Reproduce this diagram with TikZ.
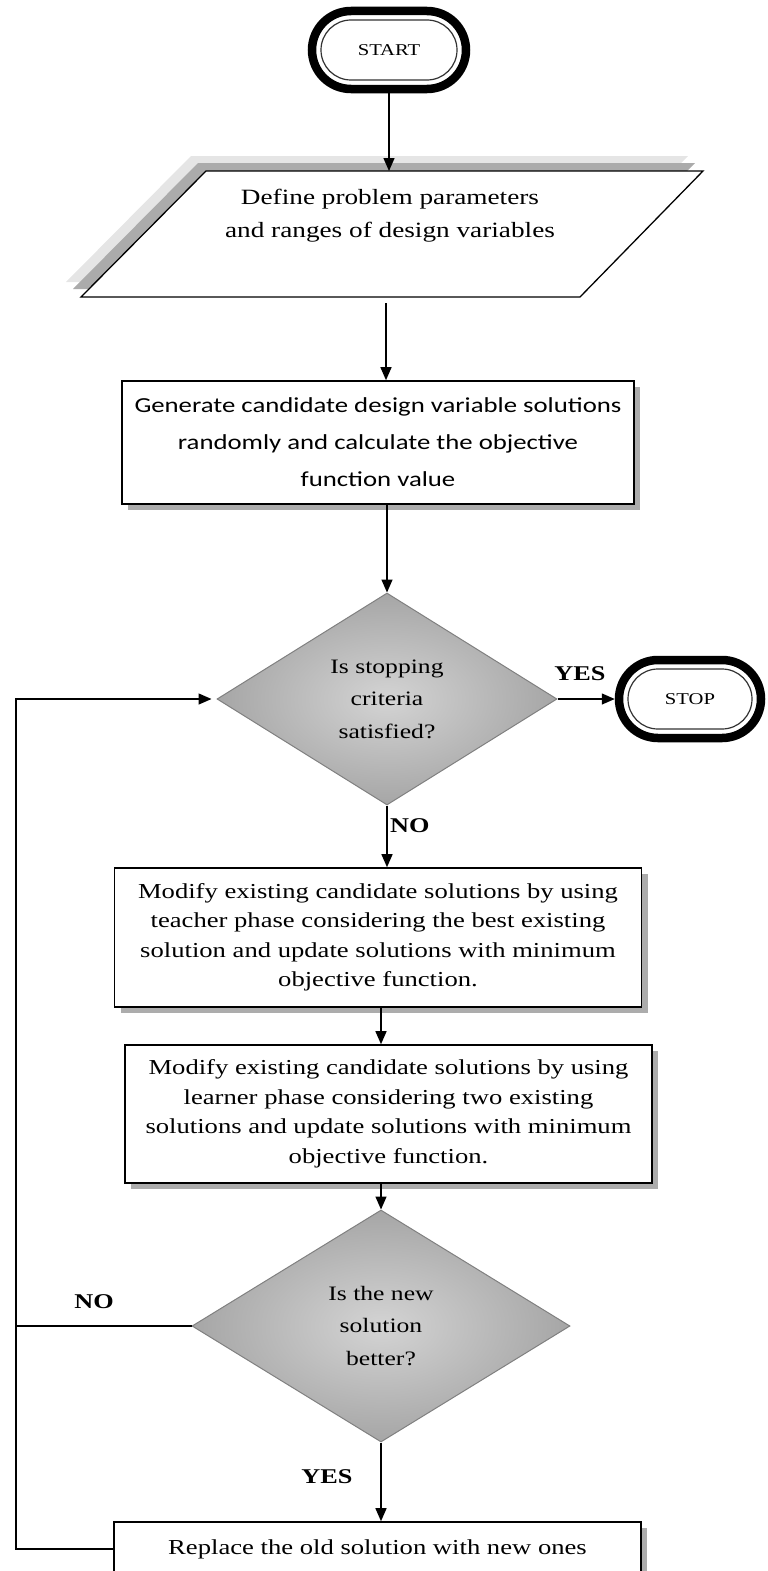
\documentclass[tikz,border=0pt]{standalone}
\usepackage{fontspec}
\setmainfont{Liberation Serif}
\newfontfamily\timesfont[FakeStretch=1.25]{Liberation Serif}
\newfontfamily\carlitofont[FakeStretch=1.25]{Carlito}
\usetikzlibrary{shapes.geometric,shapes.misc,arrows.meta,calc,shadows}
\begin{document}
\begin{tikzpicture}[x=1pt,y=-1pt,
  line/.style={line width=1.4pt, draw=black},
  arr/.style={line, -{Triangle[length=13pt,width=11pt]}},
  box/.style={rectangle, draw=black, line width=1.6pt, fill=white, inner sep=0pt, align=center,
    drop shadow={shadow xshift=6pt, shadow yshift=-6pt, opacity=0.65}},
  termout/.style={rounded rectangle, draw=black, line width=8.5pt, fill=white, inner sep=0pt},
  termin/.style={rounded rectangle, draw=black!80, line width=1.2pt, inner sep=0pt,
    font=\timesfont\fontsize{16.5}{18}\selectfont},
  dec/.style={diamond, draw=black!50, line width=1pt, inner color=black!17, outer color=black!35,
    inner sep=0pt, align=center, font=\timesfont\fontsize{20.5}{32.5}\selectfont},
  lab/.style={font=\timesfont\bfseries\fontsize{21}{24}\selectfont, inner sep=0pt},
  btext/.style={font=\timesfont\fontsize{21.3}{29.5}\selectfont},
]
\useasboundingbox (0,0) rectangle (768,1571);
\clip (0,0) rectangle (768,1571);
\coordinate (loopx) at (16,0);

% START
\node[termout, minimum width=154pt, minimum height=78pt] (start) at (389,50) {};
\node[termin, minimum width=136pt, minimum height=60pt] (startin) at (start.center) {START};

% parallelogram
\coordinate (pa) at (206,171); \coordinate (pb) at (703,171);
\coordinate (pc) at (580,297); \coordinate (pd) at (81,297);
\begin{scope}[shift={(-15,-15)}]
\fill[black!10] (206,171) -- (703,171) -- (580,297) -- (81,297) -- cycle;
\end{scope}
\begin{scope}[shift={(-8,-8)}]
\fill[black!33] (206,171) -- (703,171) -- (580,297) -- (81,297) -- cycle;
\end{scope}
\filldraw[fill=white, line width=1.3pt] (pa) -- (pb) -- (pc) -- (pd) -- cycle;
\node[align=center, font=\timesfont\fontsize{21.8}{33}\selectfont] (ptext) at (390,216)
  {Define problem parameters\\and ranges of design variables};
\coordinate (ptop) at (387,171);
\coordinate (pbot) at (386,303);

% generate
\node[box, font=\carlitofont\fontsize{21.4}{37}\selectfont, minimum width=512pt, minimum height=123pt] (gen) at (378,442.5)
  {Generate candidate design variable solutions\\randomly and calculate the objective\\function value};

% decision 1
\node[dec, minimum width=340pt, minimum height=212pt] (d1) at (387,699) {Is stopping\\criteria\\satisfied?};

% STOP
\node[termout, minimum width=142pt, minimum height=78pt] (stop) at (690,699) {};
\node[termin, minimum width=124pt, minimum height=60pt] (stopin) at (stop.center) {STOP};

% modify boxes
\node[box, btext, minimum width=527pt, minimum height=139pt] (mod1) at (378,937.5)
  {Modify existing candidate solutions by using\\teacher phase considering the best existing\\solution and update solutions with minimum\\objective function.};
\node[box, btext, minimum width=527pt, minimum height=138pt] (mod2) at (388.5,1114)
  {Modify existing candidate solutions by using\\learner phase considering two existing\\solutions and update solutions with minimum\\objective function.};

% decision 2
\node[dec, minimum width=378pt, minimum height=232pt] (d2) at (381,1326) {Is the new\\solution\\better?};

% replace
\node[box, btext, minimum width=527pt, minimum height=54pt] (replace) at (377.5,1549)
  {Replace the old solution with new ones};

% labels
\node[lab] (yes1) at (580,674) {YES};
\node[lab, anchor=west] (no1) at (390,826) {NO};
\node[lab] (no2) at (94,1302) {NO};
\node[lab] (yes2) at (327,1477) {YES};

% connectors
\draw[arr] (start.south) -- (start.south |- ptop);
\draw[arr] (pbot) -- (pbot |- gen.north);
\draw[arr] (gen.south -| d1.north) -- (d1.north);
\draw[arr] (d1.east) -- (stop.west);
\draw[arr] (d1.south) -- (d1.south |- mod1.north);
\draw[arr] (mod1.south -| d2.north) -- (mod2.north -| d2.north);
\draw[arr] (mod2.south -| d2.north) -- (d2.north);
\draw[arr] (d2.south) -- (d2.south |- replace.north);
\draw[line] (d2.west) -- (d2.west -| loopx);
\draw[arr, shorten >=5pt] (replace.west) -- (replace.west -| loopx) |- (d1.west);
\end{tikzpicture}
\end{document}
